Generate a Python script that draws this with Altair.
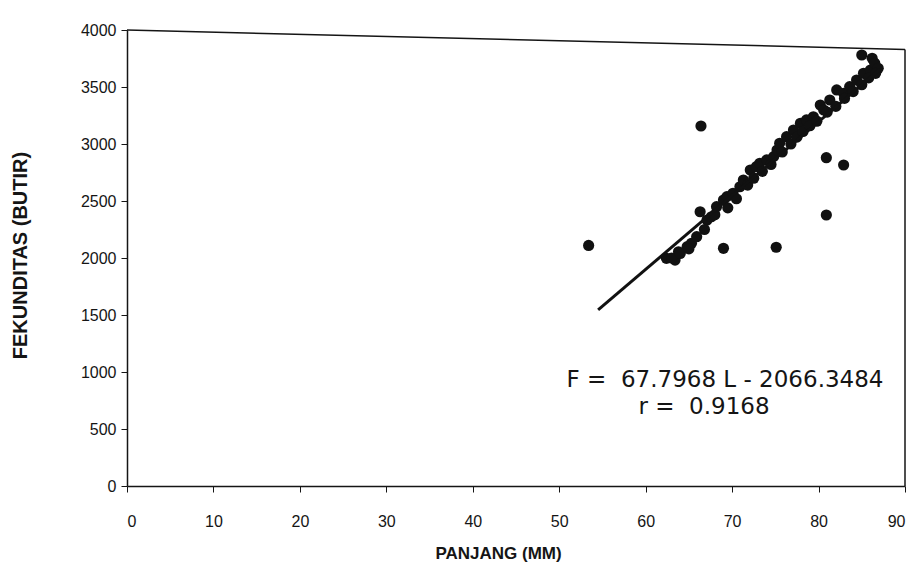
import altair as alt
import pandas as pd

# Scatter points: panjang (mm) and fekunditas (butir)
panjang = [53.4, 66.4, 69.0, 75.1, 80.9, 80.9, 82.9, 85.0, 86.2,
           62.4, 63.4, 63.8, 64.8, 65.3, 65.9, 66.3, 67.1, 67.6, 68.2,
           69.0, 69.4, 70.1, 70.9, 71.3, 72.1, 72.8, 73.2, 74.0, 74.8,
           75.2, 75.5, 76.3, 77.1, 77.9, 78.6, 79.4, 80.2, 80.6, 81.3,
           82.1, 82.9, 83.6, 84.4, 85.2, 86.0, 86.5, 86.9,
           63.0, 64.0, 65.0, 66.8, 68.0, 69.5, 70.5, 71.8, 72.5, 73.5,
           74.5, 75.8, 76.8, 77.5, 78.2, 79.0, 79.8, 81.0, 82.0, 83.0,
           84.0, 85.0, 85.8, 86.6]
fekunditas = [2110, 3158, 2085, 2094, 2377, 2880, 2816, 3781, 3752,
              1997, 1982, 2055, 2099, 2129, 2187, 2406, 2333, 2362, 2450,
              2509, 2538, 2568, 2625, 2684, 2772, 2801, 2831, 2860, 2889,
              2947, 3006, 3064, 3123, 3182, 3211, 3239, 3342, 3298, 3386,
              3474, 3445, 3503, 3561, 3620, 3649, 3708, 3664,
              2000, 2040, 2080, 2250, 2380, 2440, 2520, 2640, 2700, 2760,
              2820, 2930, 3000, 3060, 3110, 3160, 3200, 3280, 3330, 3400,
              3460, 3520, 3580, 3620]

# Regression line end points as drawn
reg_x = [54.5, 87.3]
reg_y = [1544, 3667]

# Skewed top border of the scanned frame
frame_x = [0, 90]
frame_y = [4000, 3830]

x_ticks = [0, 10, 20, 30, 40, 50, 60, 70, 80, 90]
y_ticks = [0, 500, 1000, 1500, 2000, 2500, 3000, 3500, 4000]

eq_lines = ["F =\u00a0 67.7968 L - 2066.3484", "r =\u00a0 0.9168"]

pts = pd.DataFrame({"L": panjang, "F": fekunditas})
reg = pd.DataFrame({"L": reg_x, "F": reg_y})
frame = pd.DataFrame({"L": frame_x, "F": frame_y})

FONT = "Liberation Sans"
INK = "#151515"

xs = alt.Scale(domain=[0, 90], nice=False, zero=False)
ys = alt.Scale(domain=[0, 4000], nice=False)

xaxis = alt.Axis(values=x_ticks, title="PANJANG (MM)", grid=False, format="d",
                 labelFont=FONT, labelFontSize=16, labelColor=INK,
                 labelPadding=21, tickSize=6, tickColor=INK, domainColor=INK,
                 domainWidth=1.5, titleFont=FONT, titleFontSize=17,
                 titleFontWeight="bold", titleColor=INK, titlePadding=16,
                 titleX=371)
yaxis = alt.Axis(values=y_ticks, title="FEKUNDITAS (BUTIR)", grid=False, format="d",
                 labelFont=FONT, labelFontSize=16, labelColor=INK,
                 labelPadding=5, tickSize=6, tickColor=INK, domainColor=INK,
                 domainWidth=1.5, titleFont=FONT, titleFontSize=20,
                 titleFontWeight="bold", titleColor=INK,
                 titleX=-107, titleY=225, titleBaseline="middle")

points = alt.Chart(pts).mark_circle(size=125, color="#111111", opacity=1).encode(
    x=alt.X("L:Q", scale=xs, axis=xaxis),
    y=alt.Y("F:Q", scale=ys, axis=yaxis),
)

line = alt.Chart(reg).mark_line(color="#111111", strokeWidth=3).encode(
    x=alt.X("L:Q", scale=xs), y=alt.Y("F:Q", scale=ys))

top = alt.Chart(frame).mark_line(color=INK, strokeWidth=1.5).encode(
    x=alt.X("L:Q", scale=xs), y=alt.Y("F:Q", scale=ys))

right = alt.Chart(pd.DataFrame({"L": [frame_x[1]], "F0": [0], "F1": [frame_y[1]]})).mark_rule(
    color=INK, strokeWidth=1.5).encode(
    x=alt.X("L:Q", scale=xs), y=alt.Y("F0:Q", scale=ys), y2="F1:Q")

t1 = alt.Chart(pd.DataFrame({"t": [eq_lines[0]]})).mark_text(
    font="DejaVu Sans", fontSize=23, color=INK, align="center", baseline="middle").encode(
    text="t:N", x=alt.value(598), y=alt.value(350))
t2 = alt.Chart(pd.DataFrame({"t": [eq_lines[1]]})).mark_text(
    font="DejaVu Sans", fontSize=23, color=INK, align="center", baseline="middle").encode(
    text="t:N", x=alt.value(577), y=alt.value(377))

chart = alt.layer(points, line, top, right, t1, t2).properties(
    width=778, height=456,
    autosize=alt.AutoSizeParams(type="none"),
    padding={"left": 119, "top": 22, "right": 6, "bottom": 77},
    background="white",
).configure_view(stroke=None)

chart.save("out.html", embed_options={"renderer": "svg", "actions": False})
